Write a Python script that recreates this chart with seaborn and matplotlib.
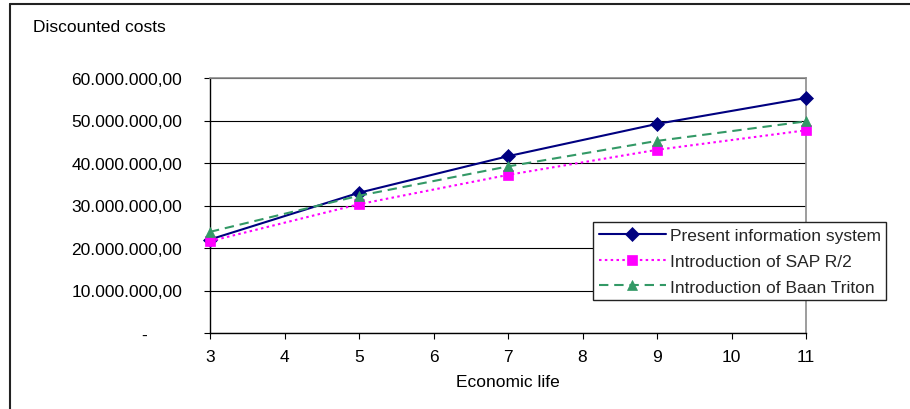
import matplotlib
matplotlib.use("Agg")
import matplotlib.pyplot as plt
from matplotlib.lines import Line2D
from matplotlib.ticker import FuncFormatter, MultipleLocator
import numpy as np
import pandas as pd
import seaborn as sns

# Economic life (years) and discounted costs per alternative
economic_life = [3, 5, 7, 9, 11]
present_system = [22.0e6, 33.0e6, 41.6e6, 49.2e6, 55.3e6]
sap_r2 = [21.6e6, 30.3e6, 37.2e6, 43.1e6, 47.7e6]
baan_triton = [23.8e6, 32.3e6, 39.2e6, 45.2e6, 49.8e6]
series_names = ["Present information system", "Introduction of SAP R/2",
                "Introduction of Baan Triton"]
x_ticks = [3, 4, 5, 6, 7, 8, 9, 10, 11]

df = pd.DataFrame({
    "life": economic_life * 3,
    "cost": present_system + sap_r2 + baan_triton,
    "series": np.repeat(series_names, len(economic_life)),
})

sns.set_style("white")
plt.rcParams["font.family"] = ["Liberation Sans", "DejaVu Sans"]
FS = 12.5

fig = plt.figure(figsize=(9.1, 4.1), dpi=100)
ax = fig.add_axes([210 / 910, 1 - 334 / 410, (806 - 210) / 910, (334 - 79) / 410])

palette = {series_names[0]: "#000080", series_names[1]: "#FF00FF",
           series_names[2]: "#339966"}
markers = {series_names[0]: "D", series_names[1]: "s", series_names[2]: "^"}
dashes = {series_names[0]: "", series_names[1]: (1.2, 1.6),
          series_names[2]: (4.5, 2.8)}

sns.lineplot(data=df, x="life", y="cost", hue="series", style="series",
             hue_order=series_names, style_order=series_names,
             palette=palette, markers=markers, dashes=dashes,
             linewidth=1.5, markersize=7.5, legend=False, ax=ax)

for line in ax.lines:
    line.set_markeredgecolor(line.get_color())
    line.set_markeredgewidth(0.5)
    line.set_clip_on(False)
    line.set_zorder(5)

ax.set_xlim(3, 11)
ax.set_ylim(0, 60e6)
ax.set_xticks(x_ticks)
ax.yaxis.set_major_locator(MultipleLocator(10e6))


def cost_fmt(v, pos):
    if abs(v) < 1:
        return "-" + " " * 7
    s = f"{v:,.2f}"
    return s.replace(",", "#").replace(".", ",").replace("#", ".")


ax.yaxis.set_major_formatter(FuncFormatter(cost_fmt))
ax.grid(axis="y", color="black", linewidth=0.8)
ax.grid(axis="x", visible=False)
ax.set_axisbelow(True)

for side in ["left", "bottom"]:
    ax.spines[side].set_color("black")
    ax.spines[side].set_linewidth(1.0)
for side in ["top", "right"]:
    ax.spines[side].set_color("#8c8c8c")
    ax.spines[side].set_linewidth(1.2)

ax.tick_params(axis="y", direction="out", length=4, width=0.8, color="black",
               pad=16, labelsize=FS, labelcolor="black", left=True)
ax.tick_params(axis="x", direction="out", length=4, width=0.8, color="black",
               pad=7.5, labelsize=FS, labelcolor="black", bottom=True)

ax.set_xlabel("Economic life", fontsize=FS, labelpad=7, color="black")
ax.set_ylabel("")
fig.text(33 / 910, 1 - 27 / 410, "Discounted costs", fontsize=FS,
         ha="left", va="center", color="black")

# Outer chart frame (left and top edges)
frame_kw = dict(color="#222222", linewidth=1.5, transform=fig.transFigure)
fig.add_artist(Line2D([10 / 910, 10 / 910], [0, 1 - 5 / 410], **frame_kw))
fig.add_artist(Line2D([10 / 910, 1], [1 - 5 / 410, 1 - 5 / 410], **frame_kw))

leg = ax.legend(ax.lines[:3], series_names, loc="upper left",
                bbox_to_anchor=(593 / 910, 1 - 223 / 410),
                bbox_transform=fig.transFigure, borderaxespad=0,
                fontsize=FS, frameon=True, fancybox=False, shadow=False,
                framealpha=1, edgecolor="#222222", handlelength=3.9,
                handletextpad=0.2, labelspacing=0.62, borderpad=0.32)
leg.get_frame().set_linewidth(1.0)
leg.set_zorder(10)

fig.savefig("out.png", dpi=100)
